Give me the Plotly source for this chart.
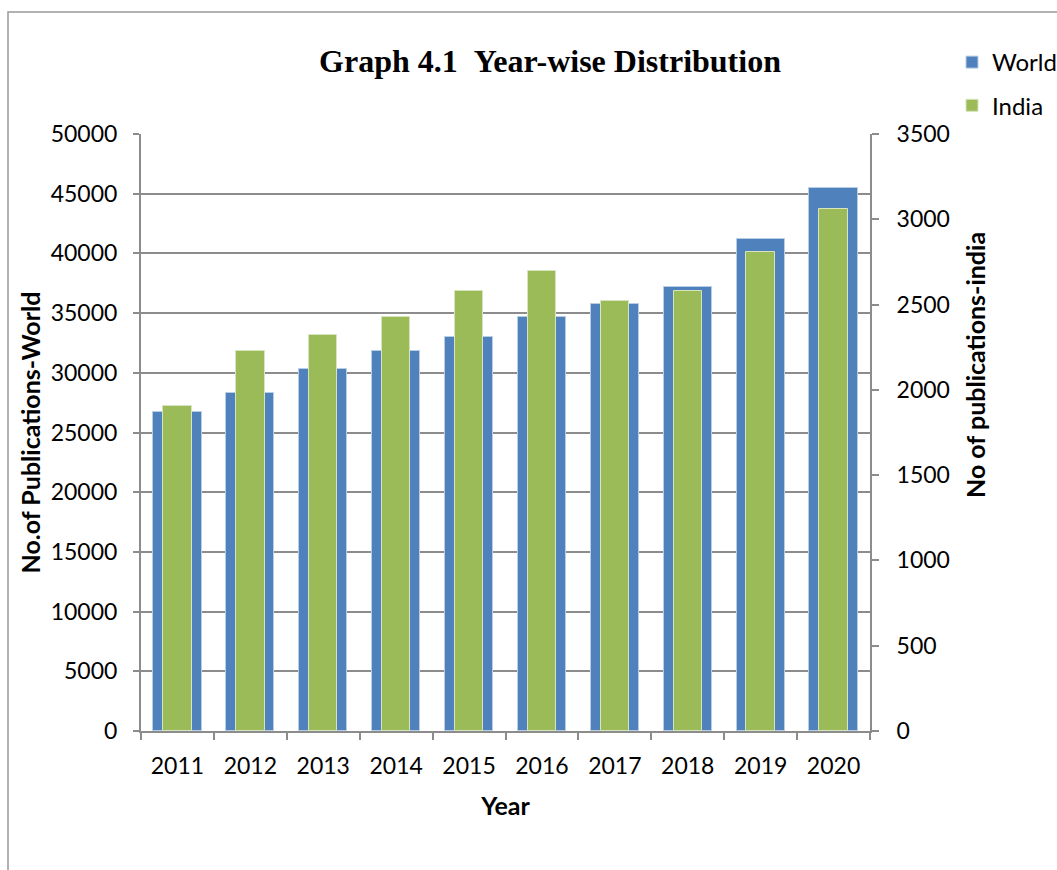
import plotly.graph_objects as go

# Year-wise publication counts
years = ["2011", "2012", "2013", "2014", "2015", "2016", "2017", "2018", "2019", "2020"]
world = [26700, 28300, 30300, 31800, 33000, 34650, 35760, 37190, 41200, 45500]
india = [1905, 2226, 2323, 2425, 2578, 2695, 2519, 2581, 2808, 3060]

W, H = 1057, 870
L, R, T, B = 141, 870, 134, 731  # plot area edges in pixels

BLUE = "#4F81BD"
GREEN = "#9BBB59"
GRID = "#8c8c8c"
FONT = "Lato"

fig = go.Figure()
fig.add_trace(go.Bar(
    x=years, y=world, name="World", width=0.66,
    marker=dict(color=BLUE, line=dict(color="#b9cde5", width=1)),
    legendgroup="w", yaxis="y",
))
fig.add_trace(go.Bar(
    x=years, y=india, name="India", width=0.39,
    marker=dict(color=GREEN, line=dict(color="#d7e4bd", width=1)),
    legendgroup="i", yaxis="y2",
))

pw, ph = R - L, B - T


def px(x):
    return (x - L) / pw


def py(y):
    return (B - y) / ph


axis_font = dict(family=FONT, size=23, color="#000")
title_font = dict(family=FONT, size=25, color="#000", weight="bold")

fig.update_layout(
    width=W, height=H,
    margin=dict(l=L, r=W - R, t=T, b=H - B, pad=0, autoexpand=False),
    paper_bgcolor="white", plot_bgcolor="white",
    barmode="overlay", bargap=0,
    title=dict(
        text="Graph 4.1&nbsp;&nbsp;Year-wise Distribution",
        font=dict(family="Liberation Serif", size=32, color="#000", weight="bold"),
        x=550 / W, xanchor="center", xref="container",
        y=1 - 61 / H, yanchor="middle", yref="container",
    ),
    xaxis=dict(
        type="category", showgrid=False, showline=True, linecolor=GRID, linewidth=2,
        ticks="outside", ticklen=7, tickcolor=GRID, tickwidth=2, tickson="boundaries",
        tickfont=axis_font, ticklabelstandoff=13, automargin=False,
        title=dict(text="Year", font=title_font, standoff=20),
    ),
    yaxis=dict(
        range=[0, 50000], dtick=5000, tickformat="d", showgrid=True, gridcolor=GRID,
        gridwidth=2, showline=True, linecolor=GRID, linewidth=2, zeroline=False,
        ticks="outside", ticklen=6, tickcolor=GRID, tickwidth=2,
        tickfont=axis_font, ticklabelstandoff=11, automargin=False,
        title=dict(text="No.of Publications-World", font=title_font, standoff=3),
    ),
    yaxis2=dict(
        range=[0, 3500], dtick=500, tickformat="d", overlaying="y", side="right",
        showgrid=False, showline=True, linecolor=GRID, linewidth=2, zeroline=False,
        ticks="outside", ticklen=7, tickcolor=GRID, tickwidth=2,
        tickfont=axis_font, ticklabelstandoff=13, automargin=False,
    ),
    annotations=[dict(
        text="No of publications-india", textangle=-90, showarrow=False,
        xref="paper", yref="paper", x=px(975), y=py(365),
        xanchor="center", yanchor="middle", font=title_font,
    )],
    legend=dict(
        x=px(952), y=py(40), xanchor="left", yanchor="top",
        font=dict(family=FONT, size=24, color="#000"),
        traceorder="grouped", tracegroupgap=9, bgcolor="rgba(0,0,0,0)",
        itemclick=False,
    ),
    shapes=[dict(
        type="path", xref="paper", yref="paper",
        path=f"M {px(8)} {py(H + 5)} L {px(8)} {py(12)} L {px(W + 5)} {py(12)}",
        line=dict(color="#999999", width=1.5),
    )],
)

fig.write_html("out.html")
